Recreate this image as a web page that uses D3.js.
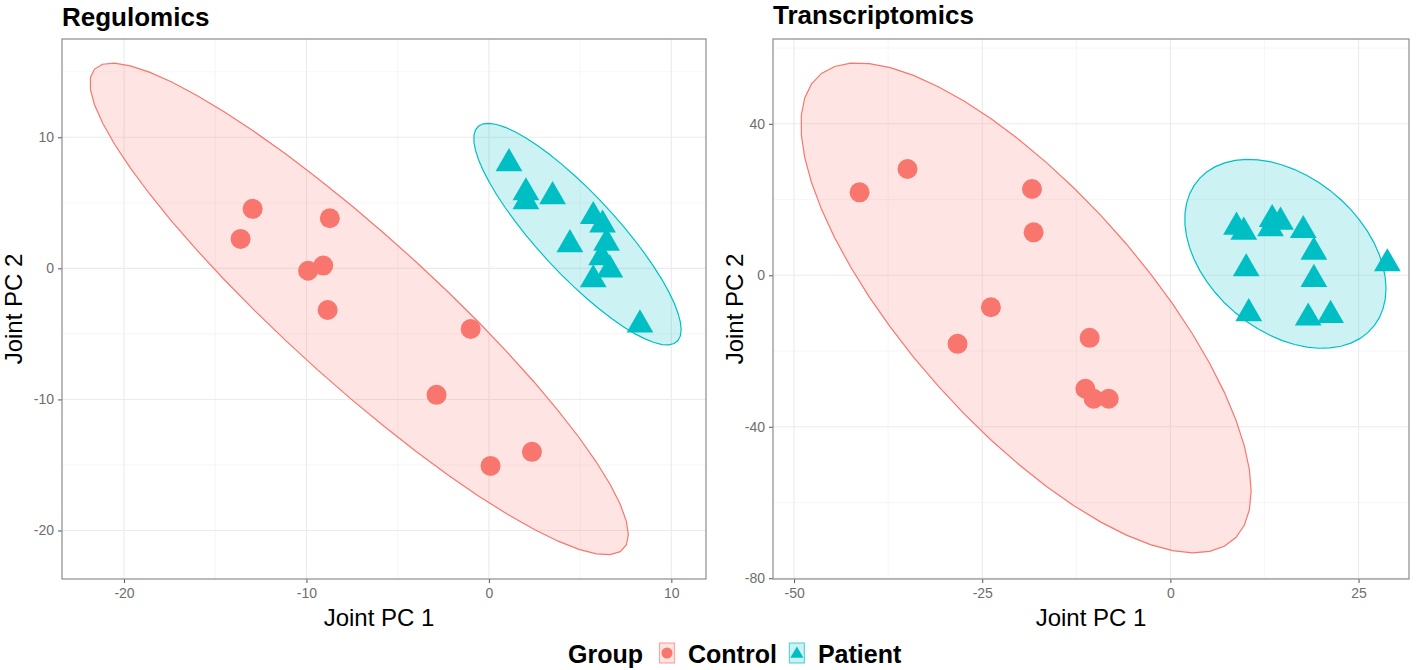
<!DOCTYPE html>
<html>
<head>
<meta charset="utf-8">
<script src="https://cdn.jsdelivr.net/npm/d3@7"></script>
<style>
    body { margin: 0; background: #fff; }
    text { font-family: "Liberation Sans", Arial, Helvetica, sans-serif; }
</style>
</head>
<body>
<script>
// groups
const groups = ["Control", "Patient"];
const groupColors = ["#F8766D", "#00BFC4"];

// Regulomics scores
const regControlX = [-12.95, -13.61, -8.72, -9.91, -9.08, -8.84, -1.0, -2.87, 0.09, 2.36];
const regControlY = [4.54, 2.25, 3.82, -0.18, 0.21, -3.18, -4.63, -9.65, -15.07, -14.0];
const regPatientX = [1.1, 2.03, 2.03, 3.49, 5.72, 6.23, 4.44, 6.45, 6.18, 6.63, 5.72, 8.28];
const regPatientY = [8.0, 5.78, 5.1, 5.48, 3.97, 3.32, 1.82, 1.94, 0.82, -0.1, -0.86, -4.3];

// Transcriptomics scores
const trnControlX = [-34.93, -41.3, -18.39, -18.18, -23.85, -28.28, -10.73, -11.3, -10.2, -8.2];
const trnControlY = [28.07, 21.9, 22.8, 11.35, -8.44, -18.1, -16.52, -29.97, -32.6, -32.6];
const trnPatientX = [8.78, 9.75, 13.52, 14.63, 13.3, 17.65, 19.06, 10.07, 19.06, 28.82, 10.41, 18.31, 21.28];
const trnPatientY = [12.77, 11.45, 14.78, 14.09, 12.32, 11.87, 6.17, 1.77, -1.06, 3.09, -10.1, -11.24, -10.55];

// ticks
const regXTicks = [-20, -10, 0, 10];
const regYTicks = [-20, -10, 0, 10];
const regXMinor = [-15, -5, 5];
const regYMinor = [-15, -5, 5, 15];
const trnXTicks = [-50, -25, 0, 25];
const trnYTicks = [-80, -40, 0, 40];
const trnXMinor = [-37.5, -12.5, 12.5];
const trnYMinor = [-60, -20, 20, 60];

const w = 1416;
const h = 670;

const svg = d3.select("body")
    .append("svg")
    .attr("width", w)
    .attr("height", h);

const zip = (xs, ys) => xs.map((x, i) => [x, ys[i]]);

// robust t covariance, same idea as MASS::cov.trob used by stat_ellipse
function covTrob(pts) {
    const n = pts.length, p = 2, nu = 5;
    let loc = [d3.mean(pts, d => d[0]), d3.mean(pts, d => d[1])];
    let wt = pts.map(() => 1);
    let X;
    for (let iter = 0; iter < 25; iter++) {
        const w0 = wt;
        X = pts.map(d => [d[0] - loc[0], d[1] - loc[1]]);
        const sw = d3.sum(wt);
        let a = 0, b = 0, c = 0;
        X.forEach((x, i) => {
            a += wt[i] * x[0] * x[0];
            b += wt[i] * x[0] * x[1];
            c += wt[i] * x[1] * x[1];
        });
        a /= sw; b /= sw; c /= sw;
        const det = a * c - b * b;
        const Q = X.map(x => (c * x[0] * x[0] - 2 * b * x[0] * x[1] + a * x[1] * x[1]) / det);
        wt = Q.map(q => (nu + p) / (nu + q));
        const s = d3.sum(wt);
        loc = [d3.sum(pts, (d, i) => wt[i] * d[0]) / s, d3.sum(pts, (d, i) => wt[i] * d[1]) / s];
        if (wt.every((v, i) => Math.abs(v - w0[i]) < 0.01)) break;
    }
    let a = 0, b = 0, c = 0;
    X.forEach((x, i) => {
        a += wt[i] * x[0] * x[0];
        b += wt[i] * x[0] * x[1];
        c += wt[i] * x[1] * x[1];
    });
    return { center: loc, cov: [a / n, b / n, c / n] };
}

function ellipsePoints(pts) {
    const n = pts.length;
    const fit = covTrob(pts);
    // qf(0.95, 2, n - 1) has a closed form when dfn = 2
    const d = n - 1;
    const fq = d / 2 * (Math.pow(0.05, -2 / d) - 1);
    const radius = Math.sqrt(2 * fq);
    const r11 = Math.sqrt(fit.cov[0]);
    const r12 = fit.cov[1] / r11;
    const r22 = Math.sqrt(fit.cov[2] - r12 * r12);
    return d3.range(52).map(i => {
        const t = i / 51 * 2 * Math.PI;
        const cx = Math.cos(t), sy = Math.sin(t);
        return [fit.center[0] + radius * cx * r11, fit.center[1] + radius * (cx * r12 + sy * r22)];
    });
}

function drawPanel(cfg) {
    const g = svg.append("g");

    const xScale = d3.scaleLinear().domain(cfg.xDomain).range([cfg.left, cfg.right]);
    const yScale = d3.scaleLinear().domain(cfg.yDomain).range([cfg.bottom, cfg.top]);

    g.append("rect")
        .attr("x", cfg.left).attr("y", cfg.top)
        .attr("width", cfg.right - cfg.left).attr("height", cfg.bottom - cfg.top)
        .attr("fill", "#fff");

    // grid
    g.selectAll(".minor-x").data(cfg.xMinor).enter().append("line")
        .attr("x1", d => xScale(d)).attr("x2", d => xScale(d))
        .attr("y1", cfg.top).attr("y2", cfg.bottom)
        .attr("stroke", "#f2f2f2").attr("stroke-width", 0.7);
    g.selectAll(".minor-y").data(cfg.yMinor).enter().append("line")
        .attr("y1", d => yScale(d)).attr("y2", d => yScale(d))
        .attr("x1", cfg.left).attr("x2", cfg.right)
        .attr("stroke", "#f2f2f2").attr("stroke-width", 0.7);
    g.selectAll(".major-x").data(cfg.xTicks).enter().append("line")
        .attr("x1", d => xScale(d)).attr("x2", d => xScale(d))
        .attr("y1", cfg.top).attr("y2", cfg.bottom)
        .attr("stroke", "#ebebeb").attr("stroke-width", 1.1);
    g.selectAll(".major-y").data(cfg.yTicks).enter().append("line")
        .attr("y1", d => yScale(d)).attr("y2", d => yScale(d))
        .attr("x1", cfg.left).attr("x2", cfg.right)
        .attr("stroke", "#ebebeb").attr("stroke-width", 1.1);

    const line = d3.line().x(d => xScale(d[0])).y(d => yScale(d[1]));

    // ellipses
    cfg.sets.forEach((pts, i) => {
        g.append("path")
            .attr("d", line(ellipsePoints(pts)) + "Z")
            .attr("fill", groupColors[i])
            .attr("fill-opacity", 0.2)
            .attr("stroke", groupColors[i])
            .attr("stroke-width", 1.2);
    });

    // points
    g.selectAll(".ctrl").data(cfg.sets[0]).enter().append("circle")
        .attr("cx", d => xScale(d[0]))
        .attr("cy", d => yScale(d[1]))
        .attr("r", 10)
        .attr("fill", groupColors[0]);

    g.selectAll(".pat").data(cfg.sets[1]).enter().append("path")
        .attr("d", d3.symbol(d3.symbolTriangle, 310))
        .attr("transform", d => `translate(${xScale(d[0])},${yScale(d[1])})`)
        .attr("fill", groupColors[1]);

    // axes (plain hyphen for negatives, like the original)
    const fmt = d => String(d);
    const xAxis = g.append("g")
        .attr("transform", `translate(0,${cfg.bottom})`)
        .call(d3.axisBottom(xScale).tickValues(cfg.xTicks).tickFormat(fmt).tickSize(4).tickPadding(5));
    const yAxis = g.append("g")
        .attr("transform", `translate(${cfg.left},0)`)
        .call(d3.axisLeft(yScale).tickValues(cfg.yTicks).tickFormat(fmt).tickSize(4).tickPadding(4));
    [xAxis, yAxis].forEach(a => {
        a.select(".domain").remove();
        a.selectAll("line").attr("stroke", "#555");
        a.selectAll("text")
            .attr("fill", "#6e6e6e")
            .style("font-size", "14px")
            .style("font-family", "Liberation Sans, Arial, sans-serif");
    });

    // border
    g.append("rect")
        .attr("x", cfg.left).attr("y", cfg.top)
        .attr("width", cfg.right - cfg.left).attr("height", cfg.bottom - cfg.top)
        .attr("fill", "none")
        .attr("stroke", "#8c8c8c")
        .attr("stroke-width", 1.2);

    // title
    g.append("text")
        .attr("x", cfg.left)
        .attr("y", cfg.titleY)
        .style("font-size", "26px")
        .style("font-weight", "bold")
        .text(cfg.title);

    // axis labels
    g.append("text")
        .attr("x", (cfg.left + cfg.right) / 2 + cfg.xLabelShift)
        .attr("y", 626)
        .attr("text-anchor", "middle")
        .style("font-size", "24px")
        .text("Joint PC 1");

    g.append("text")
        .attr("transform", `translate(${cfg.yLabelX},${(cfg.top + cfg.bottom) / 2}) rotate(-90)`)
        .attr("text-anchor", "middle")
        .style("font-size", "24px")
        .text("Joint PC 2");
}

drawPanel({
    title: "Regulomics",
    titleY: 26,
    left: 62, right: 706, top: 39, bottom: 579,
    xDomain: [-23.4, 11.9], yDomain: [-23.7, 17.5],
    xTicks: regXTicks, yTicks: regYTicks, xMinor: regXMinor, yMinor: regYMinor,
    yLabelX: 22, xLabelShift: -5,
    sets: [zip(regControlX, regControlY), zip(regPatientX, regPatientY)]
});

drawPanel({
    title: "Transcriptomics",
    titleY: 24,
    left: 773, right: 1409, top: 39, bottom: 579,
    xDomain: [-52.8, 31.7], yDomain: [-80.2, 62.4],
    xTicks: trnXTicks, yTicks: trnYTicks, xMinor: trnXMinor, yMinor: trnYMinor,
    yLabelX: 743, xLabelShift: 0,
    sets: [zip(trnControlX, trnControlY), zip(trnPatientX, trnPatientY)]
});

// legend
const legend = svg.append("g").attr("transform", "translate(568,663)");
const legTitle = legend.append("text")
    .style("font-size", "25px")
    .style("font-weight", "bold")
    .text("Group");
let lx = legTitle.node().getComputedTextLength() + 16;
groups.forEach((name, i) => {
    const key = legend.append("g").attr("transform", `translate(${lx},-20)`);
    key.append("rect")
        .attr("x", 0.5).attr("y", 0)
        .attr("width", 15).attr("height", 20)
        .attr("fill", groupColors[i])
        .attr("fill-opacity", 0.2)
        .attr("stroke", groupColors[i])
        .attr("stroke-opacity", 0.6)
        .attr("stroke-width", 1.2);
    if (i === 0) {
        key.append("circle").attr("cx", 8).attr("cy", 10).attr("r", 5.5).attr("fill", groupColors[i]);
    } else {
        key.append("path")
            .attr("d", d3.symbol(d3.symbolTriangle, 75))
            .attr("transform", "translate(8,11)")
            .attr("fill", groupColors[i]);
    }
    const t = legend.append("text")
        .attr("x", lx + 29)
        .style("font-size", "25px")
        .style("font-weight", "bold")
        .text(name);
    lx += 29 + t.node().getComputedTextLength() + 12;
});
</script>
</body>
</html>
